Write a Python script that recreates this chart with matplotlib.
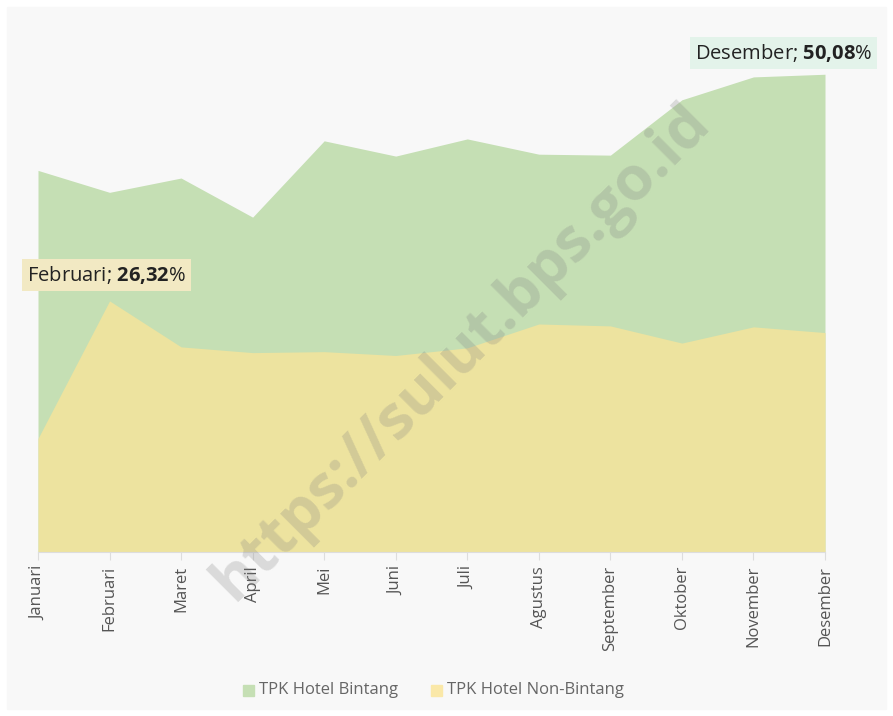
import matplotlib.pyplot as plt
from matplotlib.patches import Rectangle

plt.rcParams['mathtext.fontset'] = 'custom'
plt.rcParams['mathtext.rm'] = 'Open Sans'
plt.rcParams['mathtext.bf'] = 'Open Sans:bold'

bulan = ['Januari', 'Februari', 'Maret', 'April', 'Mei', 'Juni', 'Juli',
         'Agustus', 'September', 'Oktober', 'November', 'Desember']
tpk_bintang = [40.0, 37.7, 39.2, 35.1, 43.1, 41.5, 43.3, 41.7, 41.6, 47.4, 49.8, 50.08]
tpk_non_bintang = [11.9, 26.32, 21.5, 20.9, 21.0, 20.6, 21.4, 23.9, 23.7, 21.9, 23.6, 23.0]

W, H = 893, 716
fig = plt.figure(figsize=(W / 100, H / 100), dpi=100)
fig.patch.set_facecolor('white')
fig.patches.append(Rectangle((7 / W, 7 / H), 1 - 14 / W, 1 - 14 / H,
                             transform=fig.transFigure, color='#f8f8f8', zorder=-10))

ymax = 55
px_per_unit = 9.54
top_px = 552 - ymax * px_per_unit
ax = fig.add_axes([38 / W, (H - 552) / H, (825 - 38) / W, (552 - top_px) / H])
ax.set_facecolor('none')

x = list(range(len(bulan)))
c_green = '#c5dfb4'
c_yellow = '#ede39f'
ax.fill_between(x, 0, tpk_bintang, color=c_green, lw=0, zorder=1)
ax.fill_between(x, 0, tpk_non_bintang, color=c_yellow, lw=0, zorder=2)

ax.set_xlim(0, len(bulan) - 1)
ax.set_ylim(0, ymax)
ax.set_yticks([])
for s in ['top', 'right', 'left']:
    ax.spines[s].set_visible(False)
ax.spines['bottom'].set_color('#dddddd')
ax.spines['bottom'].set_zorder(3)
ax.set_xticks(x)
ax.set_xticklabels(bulan, rotation=90, fontsize=12, color='#555555', family='Open Sans')
ax.tick_params(axis='x', length=6, color='#dddddd', pad=4)

# annotations
ax.text(-0.15, 29.0, 'Februari; $\\bf{26{,}32}$%', fontsize=14.5, color='#222222',
        family='Open Sans', ha='left', va='center', zorder=5,
        bbox=dict(boxstyle='square,pad=0.25', fc='#f2e9c3', ec='none'))
ax.text(11.66, 52.3, 'Desember; $\\bf{50{,}08}$%', fontsize=14.5, color='#222222',
        family='Open Sans', ha='right', va='center', zorder=5,
        bbox=dict(boxstyle='square,pad=0.25', fc='#e3f3ea', ec='none'))

# watermark
fig.text(462 / W, 1 - 352 / H, 'https://sulut.bps.go.id', rotation=45,
         fontsize=44, fontweight='bold', family='Open Sans', color='#808080',
         alpha=0.25, ha='center', va='center', zorder=10)

# legend
fig.patches.append(Rectangle((243 / W, 1 - 696 / H), 11 / W, 11 / H,
                             transform=fig.transFigure, color=c_green))
fig.text(259 / W, 1 - 690 / H, 'TPK Hotel Bintang', fontsize=12, color='#666666',
         family='Open Sans', va='center')
fig.patches.append(Rectangle((431 / W, 1 - 696 / H), 11 / W, 11 / H,
                             transform=fig.transFigure, color='#fae8a8'))
fig.text(447 / W, 1 - 690 / H, 'TPK Hotel Non-Bintang', fontsize=12, color='#666666',
         family='Open Sans', va='center')

fig.savefig('out.png', dpi=100, facecolor=fig.get_facecolor())
